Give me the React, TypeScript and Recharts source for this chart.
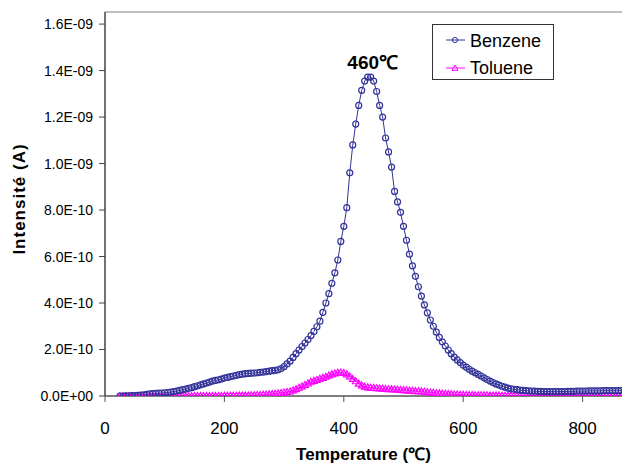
import React from 'react';
import { LineChart, Line, XAxis, YAxis, ReferenceLine, ReferenceDot } from 'recharts';

// Temperature (°C)
const temperatures = [
  25, 30, 35, 40, 45, 50, 55, 60, 65, 70,
  75, 80, 85, 90, 95, 100, 105, 110, 115, 120,
  125, 130, 135, 140, 145, 150, 155, 160, 165, 170,
  175, 180, 185, 190, 195, 200, 205, 210, 215, 220,
  225, 230, 235, 240, 245, 250, 255, 260, 265, 270,
  275, 280, 285, 290, 295, 300, 305, 310, 315, 320,
  325, 330, 335, 340, 345, 350, 355, 360, 365, 370,
  375, 380, 385, 390, 395, 400, 405, 410, 415, 420,
  425, 430, 435, 440, 445, 450, 455, 460, 465, 470,
  475, 480, 485, 490, 495, 500, 505, 510, 515, 520,
  525, 530, 535, 540, 545, 550, 555, 560, 565, 570,
  575, 580, 585, 590, 595, 600, 605, 610, 615, 620,
  625, 630, 635, 640, 645, 650, 655, 660, 665, 670,
  675, 680, 685, 690, 695, 700, 705, 710, 715, 720,
  725, 730, 735, 740, 745, 750, 755, 760, 765, 770,
  775, 780, 785, 790, 795, 800, 805, 810, 815, 820,
  825, 830, 835, 840, 845, 850, 855, 860, 865,
];

// Benzene intensity, in units of 1E-10 A
const benzene = [
  0.00, 0.00, 0.01, 0.01, 0.02, 0.02, 0.03, 0.04, 0.05, 0.07,
  0.09, 0.10, 0.11, 0.12, 0.13, 0.14, 0.15, 0.17, 0.19, 0.21,
  0.24, 0.27, 0.30, 0.33, 0.36, 0.40, 0.44, 0.48, 0.52, 0.56,
  0.60, 0.64, 0.67, 0.70, 0.73, 0.77, 0.80, 0.83, 0.86, 0.89,
  0.92, 0.94, 0.96, 0.97, 0.98, 0.99, 1.00, 1.02, 1.03, 1.05,
  1.07, 1.09, 1.10, 1.13, 1.18, 1.27, 1.38, 1.50, 1.66, 1.82,
  1.98, 2.13, 2.28, 2.43, 2.60, 2.78, 2.98, 3.22, 3.60, 4.00,
  4.40, 4.85, 5.30, 5.85, 6.65, 7.30, 8.10, 9.60, 10.80, 11.70,
  12.50, 13.15, 13.55, 13.72, 13.72, 13.55, 13.10, 12.50, 12.00, 11.10,
  10.50, 9.85, 8.80, 8.35, 7.90, 7.30, 6.70, 6.10, 5.60, 5.15,
  4.70, 4.30, 3.92, 3.58, 3.27, 3.00, 2.75, 2.52, 2.33, 2.15,
  1.98, 1.82, 1.67, 1.55, 1.44, 1.33, 1.24, 1.15, 1.07, 1.00,
  0.93, 0.86, 0.78, 0.71, 0.64, 0.58, 0.52, 0.47, 0.42, 0.38,
  0.34, 0.31, 0.29, 0.27, 0.25, 0.24, 0.23, 0.22, 0.21, 0.21,
  0.20, 0.20, 0.19, 0.19, 0.19, 0.19, 0.19, 0.19, 0.19, 0.19,
  0.20, 0.20, 0.20, 0.21, 0.21, 0.21, 0.21, 0.22, 0.22, 0.22,
  0.22, 0.22, 0.23, 0.23, 0.23, 0.23, 0.23, 0.23, 0.23,
];

// Toluene intensity, in units of 1E-10 A
const toluene = [
  0.00, 0.00, 0.00, 0.00, 0.00, 0.00, 0.00, 0.00, 0.00, 0.00,
  0.00, 0.00, 0.00, 0.00, 0.00, 0.00, 0.00, 0.00, 0.00, 0.00,
  0.00, 0.00, 0.00, 0.00, 0.00, 0.01, 0.01, 0.01, 0.01, 0.01,
  0.01, 0.01, 0.01, 0.01, 0.01, 0.02, 0.02, 0.02, 0.02, 0.02,
  0.03, 0.03, 0.03, 0.03, 0.04, 0.04, 0.05, 0.05, 0.06, 0.07,
  0.08, 0.09, 0.10, 0.12, 0.14, 0.16, 0.18, 0.20, 0.25, 0.30,
  0.36, 0.42, 0.48, 0.55, 0.62, 0.66, 0.70, 0.75, 0.79, 0.84,
  0.89, 0.94, 0.98, 1.01, 1.02, 1.00, 0.94, 0.85, 0.74, 0.64,
  0.54, 0.46, 0.41, 0.38, 0.36, 0.35, 0.34, 0.33, 0.32, 0.31,
  0.30, 0.30, 0.29, 0.28, 0.27, 0.26, 0.25, 0.24, 0.23, 0.22,
  0.21, 0.20, 0.19, 0.17, 0.16, 0.15, 0.13, 0.12, 0.11, 0.10,
  0.09, 0.08, 0.07, 0.07, 0.06, 0.06, 0.05, 0.05, 0.05, 0.04,
  0.04, 0.04, 0.04, 0.04, 0.03, 0.03, 0.03, 0.03, 0.02, 0.02,
  0.02, 0.02, 0.02, 0.02, 0.02, 0.02, 0.02, 0.02, 0.02, 0.02,
  0.02, 0.02, 0.02, 0.02, 0.02, 0.02, 0.02, 0.02, 0.02, 0.02,
  0.02, 0.02, 0.02, 0.02, 0.02, 0.02, 0.02, 0.02, 0.02, 0.02,
  0.02, 0.02, 0.02, 0.02, 0.02, 0.02, 0.02, 0.02, 0.02,
];

const seriesNames = ['Benzene', 'Toluene'];
const xTicks = [0, 200, 400, 600, 800];
const yTicks = [0, 2e-10, 4e-10, 6e-10, 8e-10, 1e-9, 1.2e-9, 1.4e-9, 1.6e-9];
const xDomain = [0, 866];
const yDomain = [0, 1.652e-9];
const peakLabel = '460℃';
const xTitle = 'Temperature (℃)';
const yTitle = 'Intensité (A)';

const BENZ = '#333399';
const TOL = '#FF00FF';
const FONT = '"Liberation Sans", Arial, Helvetica, sans-serif';

const data = temperatures.map((t, i) => ({
  t,
  benzene: benzene[i] * 1e-10,
  toluene: toluene[i] * 1e-10,
}));

let peakIdx = 0;
benzene.forEach((v, i) => {
  if (v > benzene[peakIdx]) peakIdx = i;
});

const fmtY = (v: number) => {
  if (v === 0) return '0.0E+00';
  const [m, e] = v.toExponential(1).split('e');
  const n = parseInt(e, 10);
  const sign = n < 0 ? '-' : '+';
  const abs = Math.abs(n);
  return `${m}E${sign}${abs < 10 ? '0' + abs : abs}`;
};

const CircleDot = (props: any) => {
  const { cx, cy, index } = props;
  if (cx == null || cy == null) return <g key={`b-${index}`} />;
  return <circle key={`b-${index}`} cx={cx} cy={cy} r={3} fill="none" stroke={BENZ} strokeWidth={1.2} />;
};

const TriDot = (props: any) => {
  const { cx, cy, index } = props;
  if (cx == null || cy == null) return <g key={`t-${index}`} />;
  const s = 3.3;
  return (
    <path
      key={`t-${index}`}
      d={`M${cx},${cy - s} L${cx + s},${cy + s * 0.8} L${cx - s},${cy + s * 0.8} Z`}
      fill="none"
      stroke={TOL}
      strokeWidth={1.2}
    />
  );
};

const LegendBox = () => (
  <svg width={123} height={57} style={{ display: 'block' }}>
    <rect x={0.5} y={0.5} width={121} height={55} fill="#fff" stroke="#333" strokeWidth={1} />
    <line x1={14} y1={16} x2={33} y2={16} stroke={BENZ} strokeWidth={1} />
    <circle cx={23} cy={16} r={2.6} fill="none" stroke={BENZ} strokeWidth={1} />
    <text x={38} y={22.5} fontFamily={FONT} fontSize={18} fill="#000">{seriesNames[0]}</text>
    <line x1={14} y1={44} x2={33} y2={44} stroke={TOL} strokeWidth={1} />
    <path d="M23,41 L26,46.4 L20,46.4 Z" fill="none" stroke={TOL} strokeWidth={1} />
    <text x={38} y={50} fontFamily={FONT} fontSize={18} fill="#000">{seriesNames[1]}</text>
  </svg>
);

const PeakLabel = (props: any) => {
  const vb = props.viewBox || {};
  const x = (vb.x ?? 0) + (vb.width ?? 0) / 2;
  const y = vb.y ?? 0;
  return (
    <text x={x + 5} y={y - 8} textAnchor="middle" fontFamily={FONT} fontSize={19} fontWeight="bold" fill="#000">
      {peakLabel}
    </text>
  );
};

const XTitle = (props: any) => {
  const vb = props.viewBox || {};
  return (
    <text x={vb.x + vb.width / 2} y={vb.y + 64} textAnchor="middle" fontFamily={FONT} fontSize={17} fontWeight="bold" fill="#000">
      {xTitle}
    </text>
  );
};

const YTitle = () => {
  const cx = 19;
  const cy = 199;
  return (
    <text
      x={cx}
      y={cy}
      transform={`rotate(-90 ${cx} ${cy})`}
      textAnchor="middle"
      dominantBaseline="central"
      fontFamily={FONT}
      fontSize={17}
      fontWeight="bold"
      letterSpacing={1}
      fill="#000"
    >
      {yTitle}
    </text>
  );
};

export default function App() {
  return (
    <div style={{ position: 'absolute', left: 0, top: 0, width: 622, height: 466, background: '#fff' }}>
      <LineChart width={622} height={466} data={data} margin={{ top: 12, right: 0, bottom: 0, left: 0 }}>
        <XAxis
          dataKey="t"
          type="number"
          domain={xDomain}
          ticks={xTicks}
          allowDataOverflow
          height={70}
          axisLine={{ stroke: '#000', strokeWidth: 1 }}
          tickLine={{ stroke: '#555' }}
          tickSize={6}
          tickMargin={20}
          tick={{ fontSize: 17, fill: '#000', fontFamily: FONT }}
          label={<XTitle />}
        />
        <YAxis
          type="number"
          domain={yDomain}
          ticks={yTicks}
          allowDataOverflow
          width={105}
          axisLine={{ stroke: '#444', strokeWidth: 1.5 }}
          tickLine={{ stroke: '#444' }}
          tickSize={6}
          tickMargin={6}
          tickFormatter={fmtY}
          tick={{ fontSize: 14, fill: '#000', fontFamily: FONT }}
          label={<YTitle />}
        />
        <ReferenceLine y={yDomain[1]} stroke="#aaa" strokeWidth={1.5} ifOverflow="extendDomain" />
        <Line
          type="linear"
          dataKey="toluene"
          stroke={TOL}
          strokeWidth={1}
          dot={TriDot}
          activeDot={false}
          isAnimationActive={false}
          name={seriesNames[1]}
        />
        <Line
          type="linear"
          dataKey="benzene"
          stroke={BENZ}
          strokeWidth={1}
          dot={CircleDot}
          activeDot={false}
          isAnimationActive={false}
          name={seriesNames[0]}
        />
        <ReferenceDot
          x={temperatures[peakIdx]}
          y={benzene[peakIdx] * 1e-10}
          r={0}
          fill="none"
          stroke="none"
          label={<PeakLabel />}
        />
      </LineChart>
      <div style={{ position: 'absolute', left: 432, top: 24 }}>
        <LegendBox />
      </div>
    </div>
  );
}
